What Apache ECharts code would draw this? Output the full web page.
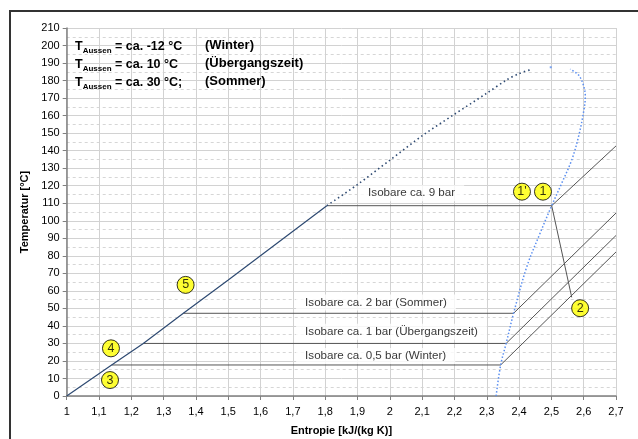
<!DOCTYPE html>
<html><head><meta charset="utf-8">
<script src="https://cdn.jsdelivr.net/npm/echarts@6/dist/echarts.min.js"></script>
<style>html,body{margin:0;padding:0;background:#fff}#c{width:638px;height:439px}</style>
</head><body><div id="c"></div>
<script>
// ---- data (entropy s [kJ/(kg K)], temperature T [°C]) ----
const liquidLow = [[1,0],[1.139,17.7],[1.237,30],[1.361,47.2],[1.5,66.2],[1.805,108.6]];
const liquidHigh = [[1.805,108.6],[1.898,120.4],[2.001,134.7],[2.104,149],[2.197,160.4],[2.300,172.8],[2.362,180.4],[2.40,184.0],[2.44,186.5]];
const vapor = [[2.329,0],[2.343,17.7],[2.360,30],[2.383,47.2],[2.424,73.8],[2.465,92.9],[2.501,108.6],[2.532,121.4],[2.563,134.7],[2.584,148],[2.599,161.4],[2.605,170.8],[2.599,177.5],[2.584,183.2],[2.558,186.5]];
const criticalDot = [[2.498,187.6]];
const isobar9 = [[1.805,108.6],[2.501,108.6],[2.7,142.7]];
const isobar2 = [[1.361,47.2],[2.383,47.2],[2.7,104.4]];
const isobar1 = [[1.237,30],[2.360,30],[2.7,91.6]];
const isobar05 = [[1.139,17.7],[2.343,17.7],[2.7,82.2]];
const compression = [[2.501,108.6],[2.563,56.3]];
const pointNames = ["1'", "1", "2", "3", "4", "5"];
const pointPos = [[2.409,116.6],[2.474,116.6],[2.589,50.1],[1.134,9.1],[1.137,27.2],[1.368,63.4]];
const isobarLabels = ['Isobare ca. 9 bar','Isobare ca. 2 bar (Sommer)','Isobare ca. 1 bar (Übergangszeit)','Isobare ca. 0,5 bar (Winter)'];
const isobarLabelAt = [[1.905,115.7],[1.710,53.3],[1.710,36.7],[1.710,22.8]];
const legendTemps = ['-12 °C', '10 °C', '30 °C;'];
const legendSeasons = ['(Winter)', '(Übergangszeit)', '(Sommer)'];
const xName = 'Entropie [kJ/(kg K)]';
const yName = 'Temperatur [°C]';

const FONT = '"Liberation Sans", Arial, sans-serif';
const chart = echarts.init(document.getElementById('c'), null, {renderer:'canvas'});

const lineColor = '#555555';
function isoSeries(d){
  return {type:'line', data:d, symbol:'none', silent:true, z:3,
    lineStyle:{color:lineColor, width:1}};
}

const graphic = [
  {type:'rect', shape:{x:10,y:11,width:1000,height:1000}, style:{fill:'none', stroke:'#333', lineWidth:2}, silent:true, z:100}
];
legendTemps.forEach((t,i)=>{
  graphic.push({type:'text', x:75, y:45 + i*18, z:100,
    style:{text:'{a|T}{b|Aussen}{a| = ca. ' + t + '}', verticalAlign:'middle', fill:'#000',
      rich:{a:{fontSize:12.5, fontWeight:'bold', fontFamily:FONT, lineHeight:16, verticalAlign:'bottom'},
            b:{fontSize:8, fontWeight:'bold', fontFamily:FONT, lineHeight:12, verticalAlign:'bottom', padding:[0,0,-2,0]}}}});
  graphic.push({type:'text', x:205, y:45 + i*18, z:100,
    style:{text:legendSeasons[i], verticalAlign:'middle', fill:'#000', font:'bold 13px ' + FONT}});
});

const option = {
  animation:false,
  backgroundColor:'#fff',
  grid:{left:66.7, right:22, top:28, bottom:43, containLabel:false, outerBoundsMode:'none'},
  xAxis:{type:'value', min:1, max:2.7, interval:0.1,
    name:xName, nameLocation:'middle', nameGap:29,
    nameTextStyle:{fontFamily:FONT, fontSize:11, fontWeight:'bold', color:'#000'},
    axisLine:{show:true, onZero:false, lineStyle:{color:'#808080', width:1.5}},
    axisTick:{show:true, length:4, lineStyle:{color:'#808080'}},
    axisLabel:{fontFamily:FONT, fontSize:11, color:'#000', margin:10, showMinLabel:true, showMaxLabel:true, hideOverlap:false,
      formatter:v=>String(Math.round(v*10)/10).replace('.',',')},
    splitLine:{show:true, lineStyle:{color:'#d2d2d2', width:1}}
  },
  yAxis:{type:'value', min:0, max:210, interval:10,
    name:yName, nameLocation:'middle', nameGap:35, nameRotate:90,
    nameTextStyle:{fontFamily:FONT, fontSize:11, fontWeight:'bold', color:'#000'},
    axisLine:{show:true, onZero:false, lineStyle:{color:'#808080', width:1.5}},
    axisTick:{show:true, length:4, lineStyle:{color:'#808080'}},
    axisLabel:{fontFamily:FONT, fontSize:11, color:'#000', margin:7, showMinLabel:true, showMaxLabel:true, hideOverlap:false},
    splitLine:{show:true, lineStyle:{color:'#d2d2d2', width:1}},
    minorTick:{show:false, splitNumber:2},
    minorSplitLine:{show:true, lineStyle:{color:'#d6d6d6', width:1, type:[3,3]}}
  },
  graphic:graphic,
  series:[
    isoSeries(isobar9), isoSeries(isobar2), isoSeries(isobar1), isoSeries(isobar05), isoSeries(compression),
    {type:'line', data:liquidLow, symbol:'none', silent:true, z:4, lineStyle:{color:'#2e4a72', width:1.2}},
    {type:'line', data:liquidHigh, symbol:'none', smooth:0.3, silent:true, z:4, lineStyle:{color:'#2e4a72', width:1.6, type:[1.5,3]}},
    {type:'line', data:vapor, symbol:'none', smooth:0.35, silent:true, z:4, lineStyle:{color:'#5a8ef0', width:1.5, type:[1.5,2]}},
    {type:'scatter', data:criticalDot, symbol:'rect', symbolSize:2, silent:true, z:4, itemStyle:{color:'#5a8ef0'}},
    {type:'scatter', silent:true, z:6, symbolSize:0,
      data:isobarLabels.map((t,i)=>({value:isobarLabelAt[i], name:t})),
      label:{show:true, position:'right', distance:0, formatter:p=>p.name, fontFamily:FONT, fontSize:11.6, color:'#000',
        backgroundColor:'#fff', padding:[2,9,2,9]}},
    {type:'scatter', silent:true, z:7, symbol:'circle', symbolSize:17,
      itemStyle:{color:'#ffff00', borderColor:'#000', borderWidth:1},
      data:pointNames.map((t,i)=>({value:pointPos[i], name:t})),
      label:{show:true, position:'inside', formatter:p=>p.name, fontFamily:FONT, fontSize:12.5, color:'#000'}}
  ]
};
chart.setOption(option);
</script>
</body></html>
